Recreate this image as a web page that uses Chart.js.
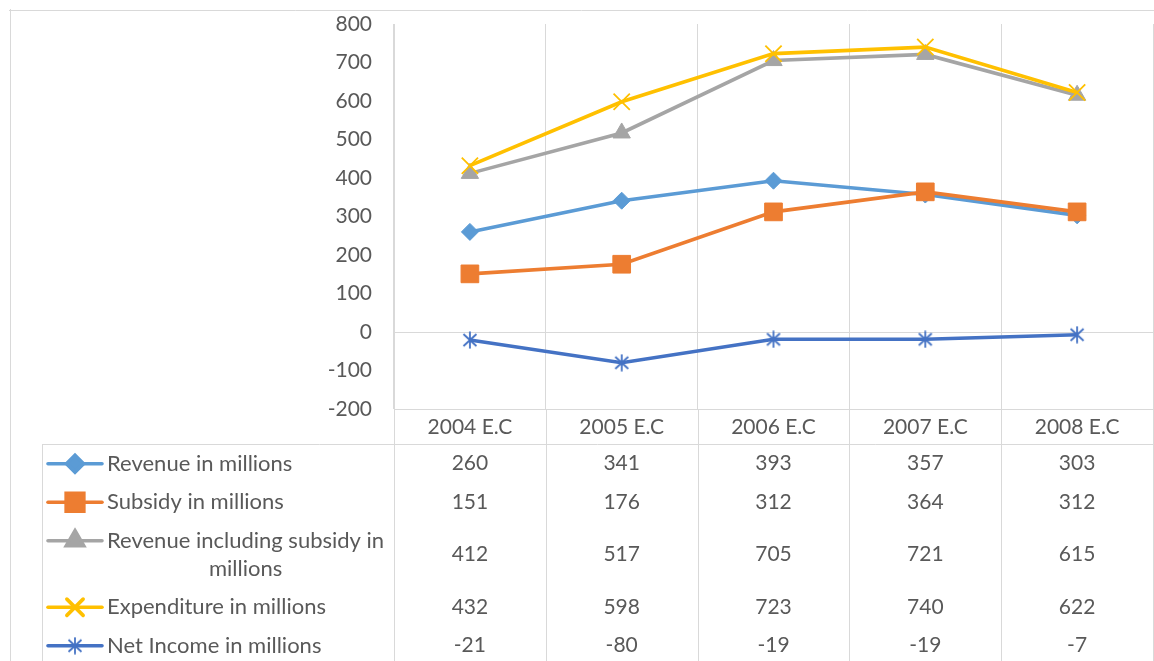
<!DOCTYPE html>
<html>
<head>
<meta charset="utf-8">
<script src="https://cdn.jsdelivr.net/npm/chart.js@4.4.1/dist/chart.umd.min.js"></script>
<style>
  html, body { margin: 0; padding: 0; background: #ffffff; }
  canvas { display: block; }
</style>
</head>
<body>
<canvas id="chart" width="1154" height="661"></canvas>
<script>
// Fiscal years (Ethiopian calendar)
const years = ['2004 E.C', '2005 E.C', '2006 E.C', '2007 E.C', '2008 E.C'];

// Series values, in millions
const revenue            = [260, 341, 393, 357, 303];
const subsidy            = [151, 176, 312, 364, 312];
const revenueInclSubsidy = [412, 517, 705, 721, 615];
const expenditure        = [432, 598, 723, 740, 622];
const netIncome          = [-21, -80, -19, -19, -7];

// Series names
const seriesNames = [
  'Revenue in millions',
  'Subsidy in millions',
  'Revenue including subsidy in millions',
  'Expenditure in millions',
  'Net Income in millions'
];

// Value axis range and tick step
const yMin = -200;
const yMax = 800;
const yStep = 100;

const FONT = 'Lato, "Open Sans", sans-serif';
const NUM_SIZE = 21;
const NAME_SIZE = 22;
const TEXT = '#595959';
const GRID = '#D9D9D9';

// Asterisk marker (x plus vertical bar)
function asteriskMarker(color) {
  const c = document.createElement('canvas');
  c.width = 18; c.height = 18;
  const g = c.getContext('2d');
  g.strokeStyle = color;
  g.lineWidth = 1.8;
  g.beginPath();
  g.moveTo(2.5, 3); g.lineTo(15.5, 15);
  g.moveTo(15.5, 3); g.lineTo(2.5, 15);
  g.moveTo(9, 0.5); g.lineTo(9, 17.5);
  g.stroke();
  return c;
}

const styles = [
  { color: '#5B9BD5', pointStyle: 'rectRot',  radius: 8.5,  borderW: 1 },
  { color: '#ED7D31', pointStyle: 'rect',     radius: 12.5, borderW: 1 },
  { color: '#A5A5A5', pointStyle: 'triangle', radius: 10,   borderW: 1 },
  { color: '#FFC000', pointStyle: 'crossRot', radius: 11.5, borderW: 1.8 },
  { color: '#4472C4', pointStyle: asteriskMarker('#4472C4'), radius: 9, borderW: 1 }
];

const seriesData = [revenue, subsidy, revenueInclSubsidy, expenditure, netIncome];
const LINE_W = 3.6;

const datasets = seriesData.map((d, i) => ({
  label: seriesNames[i],
  data: d,
  borderColor: styles[i].color,
  backgroundColor: styles[i].color,
  borderWidth: LINE_W,
  pointStyle: styles[i].pointStyle,
  pointRadius: styles[i].radius,
  pointBorderWidth: styles[i].borderW,
  pointBackgroundColor: styles[i].color,
  pointBorderColor: styles[i].color,
  tension: 0,
  order: seriesData.length - 1 - i
}));

// Wrap a label into lines no wider than maxW
function wrapText(ctx, text, maxW) {
  const words = text.split(' ');
  const lines = [];
  let cur = '';
  for (const w of words) {
    const t = cur ? cur + ' ' + w : w;
    if (ctx.measureText(t).width > maxW && cur) {
      lines.push(cur);
      cur = w;
    } else {
      cur = t;
    }
  }
  if (cur) lines.push(cur);
  return lines;
}

// Frame, data table beneath the plot and legend keys in the first column
const dataTablePlugin = {
  id: 'dataTable',
  afterDraw(chart) {
    const { ctx, chartArea: a, scales: { x } } = chart;
    const W = chart.width, H = chart.height;
    const n = years.length;
    const colW = x.getPixelForValue(1) - x.getPixelForValue(0);

    ctx.save();
    ctx.strokeStyle = GRID;
    ctx.lineWidth = 1;
    const hl = (x1, x2, y) => { ctx.beginPath(); ctx.moveTo(x1, Math.round(y) + 0.5); ctx.lineTo(x2, Math.round(y) + 0.5); ctx.stroke(); };
    const vl = (xx, y1, y2) => { ctx.beginPath(); ctx.moveTo(Math.round(xx) + 0.5, y1); ctx.lineTo(Math.round(xx) + 0.5, y2); ctx.stroke(); };

    // outer frame
    hl(9, W, 9.5);
    vl(9.5, 9, H);

    const headerTop = a.bottom;
    const headerBottom = headerTop + 35;
    const legendLeft = 42;

    // table rules
    hl(legendLeft, a.right, headerBottom);
    vl(legendLeft, headerBottom, H);
    for (let i = 0; i <= n; i++) {
      const bx = x.getPixelForValue(0) - colW / 2 + i * colW;
      vl(bx, headerTop, H);
    }

    ctx.fillStyle = TEXT;
    ctx.textBaseline = 'middle';

    // header: categories
    ctx.font = NUM_SIZE + 'px ' + FONT;
    ctx.textAlign = 'center';
    years.forEach((yr, i) => ctx.fillText(yr, x.getPixelForValue(i), headerTop + 18));

    // body rows
    const lineH = 28;
    const keyX1 = 48, keyX2 = 102, keyMid = 75, textX = 107;
    const textMax = a.left - textX - 4;
    let rowTop = headerBottom;
    seriesData.forEach((vals, si) => {
      ctx.font = NAME_SIZE + 'px ' + FONT;
      const lines = wrapText(ctx, seriesNames[si], textMax);
      const rowH = 10.5 + lineH * lines.length;
      const firstY = rowTop + 5.25 + lineH / 2 + 0.5;
      const midY = rowTop + rowH / 2;

      // key: line + marker
      ctx.strokeStyle = styles[si].color;
      ctx.lineWidth = LINE_W;
      ctx.lineCap = 'round';
      ctx.beginPath();
      ctx.moveTo(keyX1, firstY);
      ctx.lineTo(keyX2, firstY);
      ctx.stroke();
      ctx.fillStyle = styles[si].color;
      Chart.helpers.drawPoint(ctx, {
        pointStyle: styles[si].pointStyle,
        radius: styles[si].radius,
        borderWidth: styles[si].borderW,
        rotation: 0
      }, keyMid, firstY);

      // name
      ctx.fillStyle = TEXT;
      const firstW = ctx.measureText(lines[0]).width;
      lines.forEach((ln, li) => {
        if (li === 0) {
          ctx.textAlign = 'left';
          ctx.fillText(ln, textX, firstY);
        } else {
          ctx.textAlign = 'center';
          ctx.fillText(ln, textX + firstW / 2, firstY + li * lineH);
        }
      });

      // values
      ctx.font = NUM_SIZE + 'px ' + FONT;
      ctx.textAlign = 'center';
      vals.forEach((v, i) => ctx.fillText(String(v), x.getPixelForValue(i), midY));

      rowTop += rowH;
    });
    ctx.restore();
  }
};

new Chart(document.getElementById('chart'), {
  type: 'line',
  data: { labels: years, datasets },
  options: {
    responsive: false,
    animation: false,
    layout: { autoPadding: false, padding: { top: 24, right: 1, bottom: 0, left: 0 } },
    plugins: {
      legend: { display: false },
      tooltip: { enabled: false }
    },
    scales: {
      x: {
        type: 'category',
        offset: true,
        grid: { offset: true, color: GRID, lineWidth: 1, drawTicks: false },
        border: { display: true, color: GRID, width: 1 },
        ticks: { display: false, padding: 0 },
        afterFit(s) { s.height = 252; }
      },
      y: {
        min: yMin,
        max: yMax,
        ticks: {
          stepSize: yStep,
          padding: 0,
          color: TEXT,
          font: { family: FONT, size: NUM_SIZE }
        },
        grid: {
          drawTicks: true,
          tickLength: 22,
          tickColor: 'rgba(0,0,0,0)',
          color: ctx => (ctx.tick && ctx.tick.value === 0 ? GRID : 'rgba(0,0,0,0)'),
          lineWidth: 1
        },
        border: { display: true, color: GRID, width: 1 },
        afterFit(s) { s.width = 394; }
      }
    }
  },
  plugins: [dataTablePlugin]
});
</script>
</body>
</html>
